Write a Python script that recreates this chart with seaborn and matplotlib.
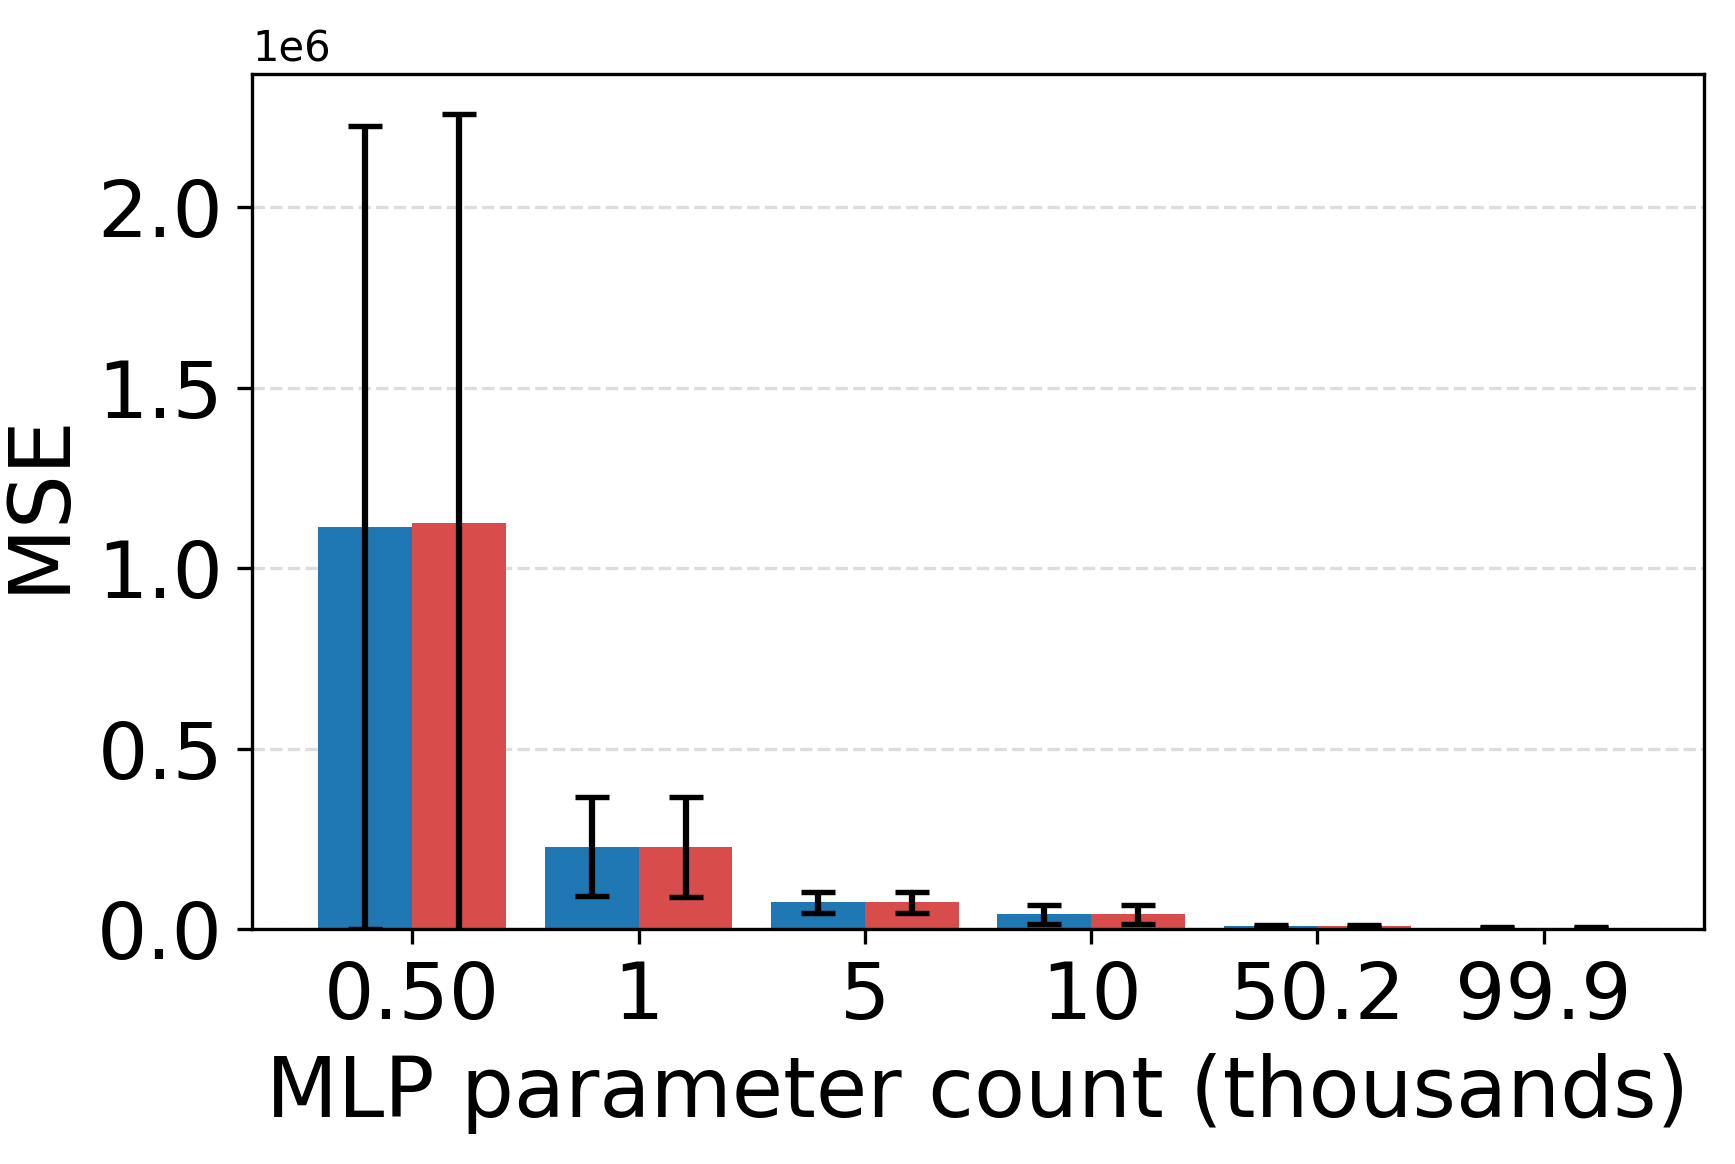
import numpy as np
import pandas as pd
import matplotlib
matplotlib.use("Agg")
import matplotlib.pyplot as plt
import seaborn as sns

# values
categories = ["0.50", "1", "5", "10", "50.2", "99.9"]
blue_mse = [1.1135e6, 0.229e6, 0.0747e6, 0.0424e6, 0.009e6, 0.005e6]
blue_err = [1.112e6, 0.1366e6, 0.0296e6, 0.026e6, 0.003e6, 0.002e6]
red_mse = [1.1265e6, 0.229e6, 0.0747e6, 0.0424e6, 0.009e6, 0.005e6]
red_err = [1.130e6, 0.138e6, 0.0296e6, 0.026e6, 0.003e6, 0.002e6]
series = ["A", "B"]
colors = ["#1f77b4", "#d84c4c"]

df = pd.DataFrame({
    "count": categories * 2,
    "series": [series[0]] * len(categories) + [series[1]] * len(categories),
    "mse": blue_mse + red_mse,
})
errs = blue_err + red_err

sns.set_style("white")
plt.rcParams["font.family"] = ["DejaVu Sans"]
plt.rcParams["text.color"] = "black"
plt.rcParams["axes.labelcolor"] = "black"

fig, ax = plt.subplots(figsize=(1735 / 300, 1164 / 300), dpi=300)
fig.subplots_adjust(left=0.1454, right=0.982, top=0.936, bottom=0.2015)

sns.barplot(data=df, x="count", y="mse", hue="series", palette=colors,
            width=0.83, saturation=1, errorbar=None, legend=False, ax=ax,
            linewidth=0, zorder=2)

# error bars at the centre of each bar patch
bars = [p for p in ax.patches if p.get_height() > 0]
bars = sorted(bars, key=lambda p: (p.get_facecolor()[0] > 0.5, p.get_x()))
xs = [p.get_x() + p.get_width() / 2 for p in bars]
ys = [p.get_height() for p in bars]
ax.errorbar(xs, ys, yerr=errs, fmt="none", ecolor="black", elinewidth=1.5,
            capsize=4, capthick=1.3, zorder=3)

ax.set_xlim(-0.707, len(categories) - 1 + 0.707)
ax.set_ylim(0, 2.367e6)
ax.set_yticks([0, 0.5e6, 1.0e6, 1.5e6, 2.0e6])
ax.ticklabel_format(axis="y", style="sci", scilimits=(0, 0))
ax.yaxis.get_offset_text().set_fontsize(10)
ax.yaxis.grid(True, linestyle="--", color="#dddddd", linewidth=0.8, zorder=0)
ax.set_axisbelow(True)

for s in ax.spines.values():
    s.set_color("black")
    s.set_linewidth(0.8)
ax.tick_params(axis="both", labelsize=19, colors="black", labelcolor="black",
               length=3.5, width=0.8, left=True, bottom=True)
ax.set_xlabel("MLP parameter count (thousands)", fontsize=20, labelpad=4.5)
ax.set_ylabel("MSE", fontsize=20.5, labelpad=4)

fig.savefig("out.png", dpi=300)
